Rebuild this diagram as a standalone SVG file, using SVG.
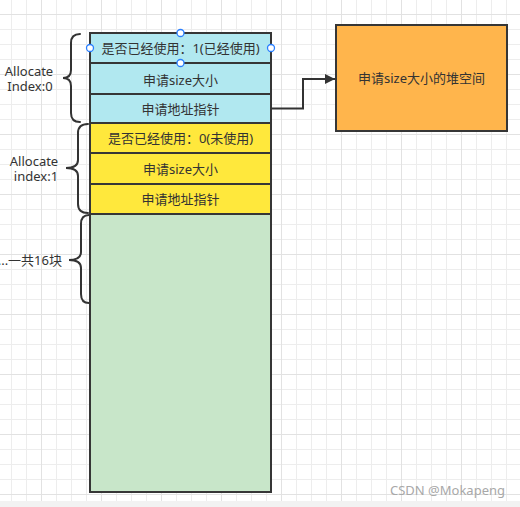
<svg xmlns="http://www.w3.org/2000/svg" width="520" height="507" viewBox="0 0 520 507">
<defs>
<pattern id="minor" x="11" y="14" width="15" height="15" patternUnits="userSpaceOnUse">
<path d="M0.5,0 V15 M0,0.5 H15" stroke="#ededed" stroke-width="1" fill="none"/>
</pattern>
<pattern id="major" x="41" y="14" width="60" height="60" patternUnits="userSpaceOnUse">
<path d="M0.5,0 V60 M0,0.5 H60" stroke="#e2e2e2" stroke-width="1" fill="none"/>
</pattern>
<marker id="arrow" viewBox="0 0 10 10" refX="10" refY="5" markerWidth="14" markerHeight="10" markerUnits="userSpaceOnUse" orient="auto">
<path d="M0,0 L10,5 L0,10 Z" fill="#333333"/>
</marker>
</defs>
<style>
text{font-family:"Noto Sans","Noto Sans CJK SC",sans-serif;font-size:13px;fill:#333333}
.cell{stroke:#363636;stroke-width:2}
.blue{fill:#b1e8f0}
.yellow{fill:#ffe83c}
.green{fill:#c8e6c9}
.brace{fill:none;stroke:#333333;stroke-width:2;stroke-linecap:round}
.handle{fill:#ffffff;stroke:#2a7fff;stroke-width:1.3}
</style>
<rect x="0" y="0" width="520" height="507" fill="#ffffff"/>
<rect x="0" y="0" width="520" height="501" fill="url(#minor)"/>
<rect x="0" y="0" width="520" height="501" fill="url(#major)"/>
<rect x="0" y="501" width="520" height="6" fill="#f2f2f2"/>

<g id="row0-used">
<rect class="cell blue" x="90" y="33" width="181" height="30"/>
<text x="180.5" y="52.5" text-anchor="middle">是否已经使用：1(已经使用)</text>
</g>
<g id="row0-size">
<rect class="cell blue" x="90" y="63" width="181" height="31"/>
<text x="180.5" y="84.5" text-anchor="middle">申请size大小</text>
</g>
<g id="row0-ptr">
<rect class="cell blue" x="90" y="94" width="181" height="29"/>
<text x="180.5" y="113.5" text-anchor="middle">申请地址指针</text>
</g>
<g id="row1-used">
<rect class="cell yellow" x="90" y="123" width="181" height="30"/>
<text x="180.5" y="142.5" text-anchor="middle">是否已经使用：0(未使用)</text>
</g>
<g id="row1-size">
<rect class="cell yellow" x="90" y="153" width="181" height="31"/>
<text x="180.5" y="173.5" text-anchor="middle">申请size大小</text>
</g>
<g id="row1-ptr">
<rect class="cell yellow" x="90" y="184" width="181" height="30"/>
<text x="180.5" y="203.5" text-anchor="middle">申请地址指针</text>
</g>
<g id="rest">
<rect class="cell green" x="90" y="214" width="181" height="278"/>
</g>
<g id="heap">
<rect class="cell" x="336" y="25" width="171" height="106" fill="#ffb54c"/>
<text x="421.5" y="82.5" text-anchor="middle">申请size大小的堆空间</text>
</g>

<g id="brace0">
<path class="brace" d="M80,34 Q71,34 71,43 L71,70 Q71,78 63,78 Q71,78 71,86 L71,113 Q71,122 80,122"/>
<text x="29" y="75.5" text-anchor="middle">Allocate</text>
<text x="30" y="90.5" text-anchor="middle">Index:0</text>
</g>
<g id="brace1">
<path class="brace" d="M88,124 Q78,124 78,133 L78,160 Q78,168 66,168 Q78,168 78,176 L78,204 Q78,213 88,213"/>
<text x="34" y="166" text-anchor="middle">Allocate</text>
<text x="36" y="181" text-anchor="middle">index:1</text>
</g>
<g id="brace2">
<path class="brace" d="M89,215 Q81,215 81,224 L81,252 Q81,260 69,260 Q81,260 81,268 L81,294 Q81,303 89,303"/>
<text x="62" y="264.5" text-anchor="end">...一共16块</text>
</g>

<g id="connectors">
<path d="M271,108.5 H303 V79 H335" fill="none" stroke="#333333" stroke-width="2" marker-end="url(#arrow)"/>
</g>

<g id="selection">
<circle class="handle" cx="180.5" cy="33" r="3.5"/>
<circle class="handle" cx="90" cy="48" r="3.5"/>
<circle class="handle" cx="271" cy="48" r="3.5"/>
<circle class="handle" cx="180.5" cy="63" r="3.5"/>
</g>

<text x="505" y="495" text-anchor="end" style="fill:#a8a8a8">CSDN @Mokapeng</text>
</svg>
